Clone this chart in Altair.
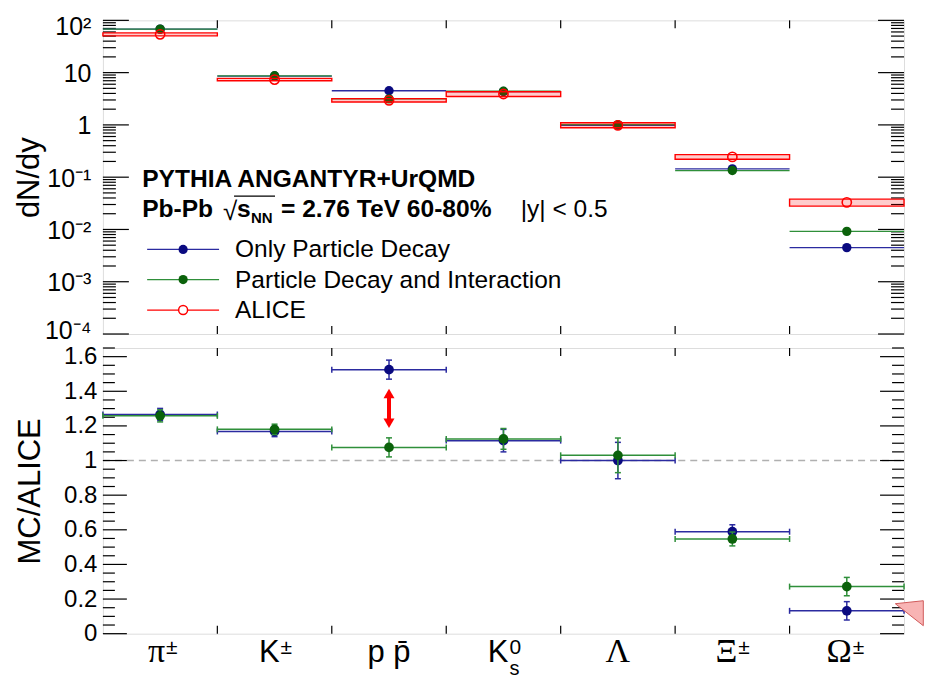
import altair as alt
import pandas as pd

# ---------------- data ----------------
species = ["pi", "K", "p", "K0s", "Lambda", "Xi", "Omega"]
label_base = ["π", "K", "p p\u0304", "K", "Λ", "Ξ", "Ω"]
label_sup = ["±", "±", "", "0", "", "±", "±"]
label_sub = ["", "", "", "s", "", "", ""]
label_serif = [True, False, False, False, True, True, True]

# dN/dy (upper panel)
decay_dndy = [68, 8.6, 4.5, 4.35, 0.98, 0.144, 0.0045]
inter_dndy = [68, 8.7, 3.15, 4.4, 1.01, 0.134, 0.0092]
alice_dndy = [54, 7.35, 2.95, 3.9, 0.98, 0.244, 0.033]
alice_lo = [50.5, 7.0, 2.75, 3.5, 0.88, 0.22, 0.028]
alice_hi = [57.5, 7.75, 3.18, 4.3, 1.1, 0.27, 0.038]

# MC/ALICE ratio (lower panel)
decay_ratio = [1.266, 1.168, 1.525, 1.115, 1.0, 0.589, 0.132]
decay_err = [0.035, 0.03, 0.055, 0.065, 0.105, 0.04, 0.053]
inter_ratio = [1.258, 1.18, 1.076, 1.125, 1.03, 0.547, 0.272]
inter_err = [0.035, 0.03, 0.055, 0.06, 0.10, 0.04, 0.053]

ratio_reference = [1.0]
arrow_x = [2.5]
arrow_lo = [1.215]
arrow_hi = [1.387]

legend_labels = ["Only Particle Decay", "Particle Decay and Interaction", "ALICE"]

top_tick_major = [1e-4, 1e-3, 1e-2, 1e-1, 1, 10, 100]
top_tick_labels = ["10⁻⁴", "10⁻³", "10⁻²", "10⁻¹", "1", "10", "10²"]
top_tick_minor = [k * 10.0 ** e for e in range(-4, 2) for k in range(2, 10)]
bot_tick_major = [0, 0.2, 0.4, 0.6, 0.8, 1.0, 1.2, 1.4, 1.6]
bot_tick_minor = [round(0.05 * k, 2) for k in range(0, 34) if k % 4 != 0]
bin_edges = [1, 2, 3, 4, 5, 6]

# ---------------- style ----------------
SANS = "Liberation Sans"
SERIF = "Liberation Serif"
BLUE_LINE, BLUE_MARK = "#2b2ba0", "#0a0a80"
GREEN_LINE, GREEN_MARK = "#2f8f3a", "#0b620b"
RED = "#ff0000"
W, HT, HB = 802, 314, 286
OX, OYT, OYB = 102.7, 19, 347

xs = alt.Scale(domain=[0, 7], nice=False, zero=False)
ys_top = alt.Scale(type="log", domain=[1e-4, 1e2], nice=False)
ys_bot = alt.Scale(domain=[0, 1.65], nice=False, zero=False)

n = len(species)
top_df = pd.DataFrame({
    "x0": [i for i in range(n)], "x1": [i + 1 for i in range(n)], "xc": [i + 0.5 for i in range(n)],
    "decay": decay_dndy, "inter": inter_dndy, "alice": alice_dndy, "lo": alice_lo, "hi": alice_hi,
})
bot_df = pd.DataFrame({
    "x0": [i for i in range(n)], "x1": [i + 1 for i in range(n)], "xc": [i + 0.5 for i in range(n)],
    "decay": decay_ratio, "decay_lo": [r - e for r, e in zip(decay_ratio, decay_err)],
    "decay_hi": [r + e for r, e in zip(decay_ratio, decay_err)],
    "inter": inter_ratio, "inter_lo": [r - e for r, e in zip(inter_ratio, inter_err)],
    "inter_hi": [r + e for r, e in zip(inter_ratio, inter_err)],
})
lab_df = pd.DataFrame({"xc": [i + 0.5 for i in range(n)], "base": label_base, "sup": label_sup,
                       "sub": label_sub, "serif": label_serif})

label_expr_top = "[" + ",".join(f"'{s}'" for s in top_tick_labels) + "][round(log(datum.value)/LN10)+4]"
top_axis = alt.Axis(values=top_tick_major, labelExpr=label_expr_top, ticks=False, tickSize=0, domain=False,
                    grid=False, labelFont=SANS, labelFontSize=25, labelPadding=12, labelColor="black",
                    labelOffset={"condition": [{"test": "datum.value > 50", "value": 6},
                                               {"test": "datum.value < 0.0002", "value": -4}],
                                 "value": 1},
                    title="dN/dy", titleFont=SANS, titleFontSize=31, titleFontWeight="normal",
                    titleAngle=270, titleX=-64, titleY=HT / 2, titleBaseline="alphabetic",
                    titleAlign="center", titleColor="black")
bot_axis = alt.Axis(values=bot_tick_major,
                    labelExpr="datum.value == 0 ? '0' : abs(datum.value - 1) < 0.001 ? '1' : format(datum.value, '.1f')",
                    ticks=False, tickSize=0, domain=False, grid=False, labelFont=SANS, labelFontSize=24,
                    labelPadding=6, labelColor="black",
                    title="MC/ALICE", titleFont=SANS, titleFontSize=31, titleFontWeight="normal",
                    titleAngle=270, titleX=-63, titleY=HB / 2, titleBaseline="alphabetic",
                    titleAlign="center", titleColor="black")


def X(field):
    return alt.X(field, scale=xs, axis=None)


def YT(field):
    return alt.Y(field, scale=ys_top, axis=top_axis)


def YB(field):
    return alt.Y(field, scale=ys_bot, axis=bot_axis)


def yticks(values, Yf, length, right, width):
    df = pd.DataFrame({"v": values})
    if right:
        xx = dict(x=alt.value(width - length), x2=alt.value(width))
    else:
        xx = dict(x=alt.value(0), x2=alt.value(length))
    return alt.Chart(df).mark_rule(color="black", strokeWidth=1.2).encode(y=Yf("v:Q"), **xx)


def xticks(values, length, height, top):
    df = pd.DataFrame({"v": values})
    if top:
        yy = dict(y=alt.value(0), y2=alt.value(length))
    else:
        yy = dict(y=alt.value(height - length), y2=alt.value(height))
    return alt.Chart(df).mark_rule(color="black", strokeWidth=1.2).encode(x=X("v:Q"), **yy)


def txt(s, x, y, size=24, weight="normal", font=SANS, align="left", baseline="alphabetic"):
    return alt.Chart(pd.DataFrame({"t": [s]})).mark_text(
        align=align, baseline=baseline, fontSize=size, fontWeight=weight, font=font, color="black"
    ).encode(x=alt.value(x), y=alt.value(y), text="t:N")


# ---------------- top panel ----------------
top_base = alt.Chart(top_df)
top_layers = [
    yticks(top_tick_major, YT, 26, False, W),
    yticks(top_tick_minor, YT, 13, False, W),
    yticks(top_tick_major, YT, 26, True, W),
    yticks(top_tick_minor, YT, 13, True, W),
    xticks(bin_edges, 8, HT, True),
    xticks(bin_edges, 8, HT, False),
    top_base.mark_rule(color=BLUE_LINE, strokeWidth=1.3).encode(x=X("x0:Q"), x2="x1:Q", y=YT("decay:Q")),
    top_base.mark_circle(size=88, color=BLUE_MARK, opacity=1).encode(x=X("xc:Q"), y=YT("decay:Q")),
    top_base.mark_rule(color=GREEN_LINE, strokeWidth=1.3).encode(x=X("x0:Q"), x2="x1:Q", y=YT("inter:Q")),
    top_base.mark_circle(size=88, color=GREEN_MARK, opacity=1).encode(x=X("xc:Q"), y=YT("inter:Q")),
    top_base.mark_rect(fill=RED, fillOpacity=0.2, stroke=RED, strokeWidth=1.4).encode(
        x=X("x0:Q"), x2="x1:Q", y=YT("lo:Q"), y2="hi:Q"),
    top_base.mark_point(shape="circle", filled=False, color=RED, strokeWidth=1.6, size=85, opacity=1).encode(
        x=X("xc:Q"), y=YT("alice:Q")),
]

# legend (drawn inside the upper panel)
leg_rows_y = [248.3 - OYT, 278.5 - OYT, 309 - OYT]
leg_line = [(BLUE_LINE, BLUE_MARK, True), (GREEN_LINE, GREEN_MARK, True), (RED, RED, False)]
for (lc, mc, filled), ry, lab in zip(leg_line, leg_rows_y, legend_labels):
    d = pd.DataFrame({"t": [lab]})
    top_layers.append(alt.Chart(d).mark_rule(color=lc, strokeWidth=1.3).encode(
        x=alt.value(147 - OX), x2=alt.value(219 - OX), y=alt.value(ry)))
    if filled:
        top_layers.append(alt.Chart(d).mark_circle(size=85, color=mc, opacity=1).encode(
            x=alt.value(183 - OX), y=alt.value(ry)))
    else:
        top_layers.append(alt.Chart(d).mark_point(shape="circle", filled=False, color=mc, strokeWidth=1.5,
                                                  size=80, opacity=1, fill="white", fillOpacity=1).encode(
            x=alt.value(183 - OX), y=alt.value(ry)))
    top_layers.append(txt(lab, 235 - OX, ry + 1, size=24.5, baseline="middle"))

# header text
top_layers += [
    txt("PYTHIA ANGANTYR+UrQMD", 142 - OX, 186 - OYT, 24.6, "bold"),
    txt("Pb-Pb", 142 - OX, 216 - OYT, 24.6, "bold"),
    txt("√", 223 - OX, 219 - OYT, 26, "normal"),
    alt.Chart(pd.DataFrame({"t": [0]})).mark_rule(color="black", strokeWidth=1.3).encode(
        x=alt.value(234 - OX), x2=alt.value(275 - OX), y=alt.value(195 - OYT)),
    txt("s", 237 - OX, 216 - OYT, 24.6, "bold"),
    txt("NN", 251 - OX, 222 - OYT, 15, "bold"),
    txt("= 2.76 TeV 60-80%", 281 - OX, 216 - OYT, 24.6, "bold"),
    txt("|y| < 0.5", 521 - OX, 216 - OYT, 24.5, "normal"),
]

top = alt.layer(*top_layers).properties(width=W, height=HT)

# ---------------- bottom panel ----------------
bb = alt.Chart(bot_df)


def series_layers(key, lc, mc):
    return [
        bb.mark_rule(color=lc, strokeWidth=1.5).encode(x=X("x0:Q"), x2="x1:Q", y=YB(f"{key}:Q")),
        bb.mark_tick(orient="vertical", size=6, thickness=1.5, color=lc, opacity=1).encode(
            x=X("x0:Q"), y=YB(f"{key}:Q")),
        bb.mark_tick(orient="vertical", size=6, thickness=1.5, color=lc, opacity=1).encode(
            x=X("x1:Q"), y=YB(f"{key}:Q")),
        bb.mark_rule(color=lc, strokeWidth=1.5).encode(
            x=X("xc:Q"), y=YB(f"{key}_lo:Q"), y2=f"{key}_hi:Q"),
        bb.mark_tick(orient="horizontal", size=6, thickness=1.5, color=lc, opacity=1).encode(
            x=X("xc:Q"), y=YB(f"{key}_lo:Q")),
        bb.mark_tick(orient="horizontal", size=6, thickness=1.5, color=lc, opacity=1).encode(
            x=X("xc:Q"), y=YB(f"{key}_hi:Q")),
        bb.mark_circle(size=95, color=mc, opacity=1).encode(x=X("xc:Q"), y=YB(f"{key}:Q")),
    ]


arrow_df = pd.DataFrame({"x": arrow_x, "lo": arrow_lo, "hi": arrow_hi})
ab = alt.Chart(arrow_df)

bot_layers = [
    alt.Chart(pd.DataFrame({"v": ratio_reference})).mark_rule(
        color="#b0b0b0", strokeWidth=1.5, strokeDash=[7, 5]).encode(
        y=YB("v:Q"), x=alt.value(0), x2=alt.value(W)),
    yticks(bot_tick_major, YB, 24, False, W),
    yticks(bot_tick_minor, YB, 12, False, W),
    yticks(bot_tick_major, YB, 24, True, W),
    yticks(bot_tick_minor, YB, 12, True, W),
    xticks(bin_edges, 8, HB, True),
    xticks(bin_edges, 8, HB, False),
]
bot_layers += series_layers("decay", BLUE_LINE, BLUE_MARK)
bot_layers += series_layers("inter", GREEN_LINE, GREEN_MARK)
bot_layers += [
    ab.mark_rule(color=RED, strokeWidth=4).encode(x=X("x:Q"), y=YB("lo:Q"), y2="hi:Q"),
    ab.mark_point(shape="triangle-up", size=121, filled=True, color=RED, opacity=1).encode(
        x=X("x:Q"), y=YB("hi:Q")),
    ab.mark_point(shape="triangle-down", size=121, filled=True, color=RED, opacity=1).encode(
        x=X("x:Q"), y=YB("lo:Q")),
]

# category labels under the lower panel
LB = 661 - OYB
LS = 653 - OYB
LSUB = 674 - OYB
lb = alt.Chart(lab_df)
for serif in (True, False):
    font = SERIF if serif else SANS
    fs = 34 if serif else 31
    cond = "datum.serif" if serif else "!datum.serif"
    bot_layers.append(lb.transform_filter(f"{cond} && datum.sup != ''").mark_text(
        align="right", baseline="alphabetic", dx=5, fontSize=fs, font=font, color="black").encode(
        x=X("xc:Q"), y=alt.value(LB), text="base:N"))
    bot_layers.append(lb.transform_filter(f"{cond} && datum.sup == ''").mark_text(
        align="center", baseline="alphabetic", fontSize=fs, font=font, color="black").encode(
        x=X("xc:Q"), y=alt.value(LB), text="base:N"))
bot_layers.append(lb.transform_filter("datum.sup != ''").mark_text(
    align="left", baseline="alphabetic", dx=6, fontSize=21, font=SANS, color="black").encode(
    x=X("xc:Q"), y=alt.value(LS), text="sup:N"))
bot_layers.append(lb.transform_filter("datum.sub != ''").mark_text(
    align="left", baseline="alphabetic", dx=6, fontSize=20, font=SANS, color="black").encode(
    x=X("xc:Q"), y=alt.value(LSUB), text="sub:N"))

# pink callout wedge at the right edge
bot_layers.append(alt.Chart(pd.DataFrame({"t": [0]})).mark_point(
    shape="M0,0 L28,-3 L28,22 Z", size=4, filled=True, fill="#f8b4b4", stroke="#d05a5a",
    strokeWidth=1, opacity=1, fillOpacity=1).encode(x=alt.value(896 - OX), y=alt.value(603 - OYB)))

bot = alt.layer(*bot_layers).properties(width=W, height=HB)

chart = alt.vconcat(top, bot, spacing=14, bounds="flush").properties(
    padding={"left": 5, "top": 5, "right": 0, "bottom": 0},
    background="white",
).configure_view(stroke="black", strokeWidth=1.6).configure(font=SANS)

chart.save("out.html", embed_options={"renderer": "svg", "actions": False})
